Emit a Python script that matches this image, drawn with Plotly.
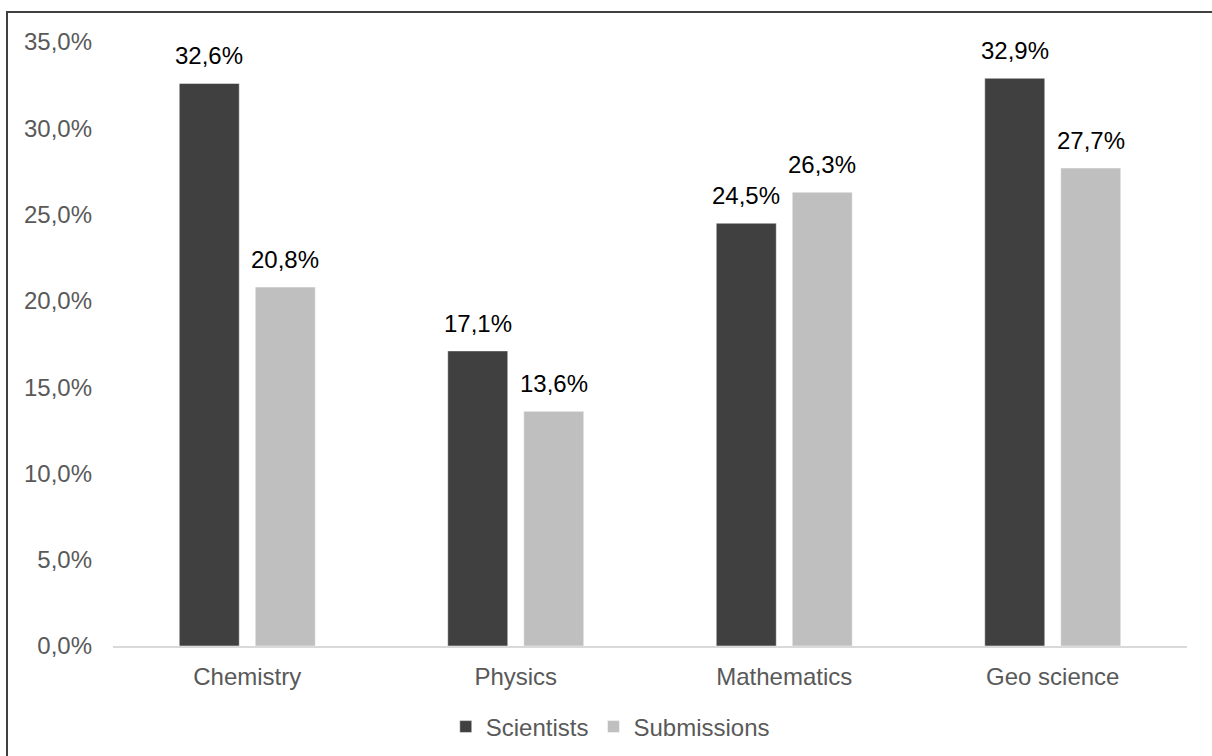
import plotly.graph_objects as go

categories = ["Chemistry", "Physics", "Mathematics", "Geo science"]
scientists = [32.6, 17.1, 24.5, 32.9]
submissions = [20.8, 13.6, 26.3, 27.7]
y_ticks = [0, 5, 10, 15, 20, 25, 30, 35]
y_tick_text = [f"{v:.1f}%".replace(".", ",") for v in y_ticks]

FONT = "Liberation Sans, Arial, sans-serif"
W, H = 1212, 756
L, R, T, B = 113, 25, 42, 110
pw, ph = W - L - R, H - T - B

series = [("Scientists", scientists, "#404040"),
          ("Submissions", submissions, "#bfbfbf")]

fig = go.Figure()
for name, vals, color in series:
    fig.add_trace(go.Bar(
        name=name, x=categories, y=vals,
        marker=dict(color=color, line=dict(color="#ffffff", width=0.5)),
        cliponaxis=False, hoverinfo="skip",
    ))

# value labels above each bar, offset to the left/right bar of the group
slot = (1 - 0.434) / 2  # width of one bar slot in category units
for i, (name, vals, color) in enumerate(series):
    offset = (i - 0.5) * slot
    for k, v in enumerate(vals):
        fig.add_annotation(
            x=k + offset, y=v, xref="x", yref="y",
            text=f"{v:.1f}%".replace(".", ","), showarrow=False,
            yanchor="bottom", yshift=12,
            font=dict(family=FONT, size=24, color="#000000"),
        )

# frame around the chart (top and left edges fall inside the page)
fig.add_shape(type="rect", xref="paper", yref="paper",
              x0=(7 - L) / pw, x1=(W + 300 - L) / pw,
              y0=-(B + 300) / ph, y1=(H - B - 12) / ph,
              line=dict(color="#404040", width=2), fillcolor="rgba(0,0,0,0)",
              layer="above")

fig.update_layout(
    width=W, height=H,
    margin=dict(l=L, r=R, t=T, b=B, autoexpand=False),
    paper_bgcolor="white", plot_bgcolor="white",
    barmode="group", bargap=0.434, bargroupgap=0.21,
    font=dict(family=FONT, size=24, color="#595959"),
    showlegend=True,
    legend=dict(orientation="h", x=0.463, xanchor="center",
                y=(646 - 727) / ph, yanchor="middle",
                font=dict(family=FONT, size=24, color="#595959"),
                itemwidth=30, traceorder="normal"),
    xaxis=dict(showline=True, linecolor="#d9d9d9", linewidth=2,
               ticks="", showgrid=False, tickfont=dict(size=24, color="#595959"),
               ticklabelstandoff=8),
    yaxis=dict(range=[0, 35], tickvals=y_ticks, ticktext=y_tick_text,
               showgrid=False, showline=False, zeroline=False, ticks="",
               tickfont=dict(size=24, color="#595959"), ticklabelstandoff=20),
)

fig.write_html("out.html")
